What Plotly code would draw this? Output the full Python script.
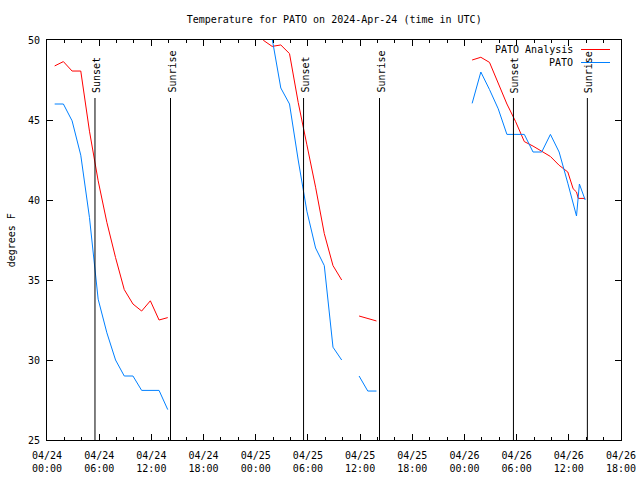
import plotly.graph_objects as go

# ---------------- data ----------------
analysis_times = [
    "2024-04-24 00:53", "2024-04-24 01:53", "2024-04-24 02:53", "2024-04-24 03:53",
    "2024-04-24 04:53", "2024-04-24 05:53", "2024-04-24 06:53", "2024-04-24 07:53",
    "2024-04-24 08:53", "2024-04-24 09:53", "2024-04-24 10:53", "2024-04-24 11:53",
    "2024-04-24 12:53", "2024-04-24 13:53",
    "2024-04-24 18:00",
    "2024-04-24 23:53", "2024-04-25 00:53", "2024-04-25 01:53", "2024-04-25 02:53",
    "2024-04-25 03:53", "2024-04-25 04:53", "2024-04-25 05:53", "2024-04-25 06:53",
    "2024-04-25 07:53", "2024-04-25 08:53", "2024-04-25 09:53",
    "2024-04-25 10:53",
    "2024-04-25 11:53", "2024-04-25 12:53", "2024-04-25 13:53",
    "2024-04-25 18:00",
    "2024-04-26 00:53", "2024-04-26 01:53", "2024-04-26 02:53", "2024-04-26 03:53",
    "2024-04-26 04:53", "2024-04-26 05:53", "2024-04-26 06:53", "2024-04-26 07:53",
    "2024-04-26 08:53", "2024-04-26 09:53", "2024-04-26 10:53", "2024-04-26 11:53",
    "2024-04-26 12:30", "2024-04-26 12:53", "2024-04-26 13:05", "2024-04-26 13:53",
]
analysis_temps = [
    48.38, 48.65, 48.06, 48.06, 44.3, 41.2, 38.6, 36.4, 34.4, 33.5, 33.06, 33.7, 32.5, 32.65,
    None,
    50.8, 49.98, 49.6, 49.69, 49.15, 46.1, 43.45, 40.8, 37.9, 35.9, 35.0,
    None,
    32.75, 32.6, 32.44,
    None,
    48.75, 48.92, 48.6, 47.29, 46.0, 44.9, 43.65, 43.37, 43.05, 42.72, 42.17, 41.75,
    40.7, 40.5, 40.1, 40.1,
]

obs_times = [
    "2024-04-24 00:53", "2024-04-24 01:53", "2024-04-24 02:53", "2024-04-24 03:53",
    "2024-04-24 04:53", "2024-04-24 05:53", "2024-04-24 06:53", "2024-04-24 07:53",
    "2024-04-24 08:53", "2024-04-24 09:53", "2024-04-24 10:53", "2024-04-24 11:53",
    "2024-04-24 12:53", "2024-04-24 13:53",
    "2024-04-24 18:00",
    "2024-04-25 00:53", "2024-04-25 01:53", "2024-04-25 02:53", "2024-04-25 03:53",
    "2024-04-25 04:53", "2024-04-25 05:53", "2024-04-25 06:53", "2024-04-25 07:53",
    "2024-04-25 08:53", "2024-04-25 09:53",
    "2024-04-25 10:53",
    "2024-04-25 11:53", "2024-04-25 12:53", "2024-04-25 13:53",
    "2024-04-25 18:00",
    "2024-04-26 00:53", "2024-04-26 01:53", "2024-04-26 02:53", "2024-04-26 03:53",
    "2024-04-26 04:53", "2024-04-26 05:53", "2024-04-26 06:53", "2024-04-26 07:53",
    "2024-04-26 08:53", "2024-04-26 09:53", "2024-04-26 10:53", "2024-04-26 11:53",
    "2024-04-26 12:53", "2024-04-26 13:13", "2024-04-26 13:53",
]
obs_temps = [
    46.0, 46.0, 44.95, 42.8, 38.9, 33.8, 31.7, 30.0, 29.0, 29.0, 28.1, 28.1, 28.1, 26.9,
    None,
    51.0, 50.1, 47.0, 46.0, 42.5, 39.3, 37.0, 35.9, 30.8, 30.0,
    None,
    29.0, 28.06, 28.06,
    None,
    46.04, 48.0, 46.9, 45.7, 44.1, 44.1, 44.1, 43.0, 43.0, 44.1, 43.0, 41.05,
    39.0, 41.0, 40.0,
]

event_labels = ["Sunset", "Sunrise", "Sunset", "Sunrise", "Sunset", "Sunrise"]
event_times = ["2024-04-24 05:31", "2024-04-24 14:12", "2024-04-25 05:30",
               "2024-04-25 14:14", "2024-04-26 05:38", "2024-04-26 14:08"]
event_line_top = 46.375

x_tick_vals = ["2024-04-24 00:00", "2024-04-24 06:00", "2024-04-24 12:00", "2024-04-24 18:00",
               "2024-04-25 00:00", "2024-04-25 06:00", "2024-04-25 12:00", "2024-04-25 18:00",
               "2024-04-26 00:00", "2024-04-26 06:00", "2024-04-26 12:00", "2024-04-26 18:00"]
x_tick_text = ["04/24<br>00:00", "04/24<br>06:00", "04/24<br>12:00", "04/24<br>18:00",
               "04/25<br>00:00", "04/25<br>06:00", "04/25<br>12:00", "04/25<br>18:00",
               "04/26<br>00:00", "04/26<br>06:00", "04/26<br>12:00", "04/26<br>18:00"]
y_tick_vals = [25, 30, 35, 40, 45, 50]

series_names = ["PATO Analysis", "PATO"]
series_colors = ["#ff0000", "#0080ff"]

FONT = "DejaVu Sans Mono"

# ---------------- figure ----------------
fig = go.Figure()
fig.add_trace(go.Scatter(x=analysis_times, y=analysis_temps, mode="lines",
                         name=series_names[0], connectgaps=False,
                         line=dict(color=series_colors[0], width=1)))
fig.add_trace(go.Scatter(x=obs_times, y=obs_temps, mode="lines",
                         name=series_names[1], connectgaps=False,
                         line=dict(color=series_colors[1], width=1)))

# sunrise / sunset markers
for lab, t in zip(event_labels, event_times):
    fig.add_shape(type="line", xref="x", yref="y", x0=t, x1=t, y0=25, y1=event_line_top,
                  line=dict(color="black", width=1), layer="above")
    fig.add_annotation(x=t, y=event_line_top, xref="x", yref="y", text=lab,
                       textangle=-90, showarrow=False, xanchor="center", yanchor="bottom",
                       yshift=3, xshift=1, font=dict(family=FONT, size=10, color="black"))

# manual legend (text left of sample line, gnuplot style)
PW, PH, L, T = 574.3, 400.0, 46.7, 40.0
def px(xp):
    return (xp - L) / PW
def py(yp):
    return (T + PH - yp) / PH
legend_y = [49.5, 62.5]
for name, col, yy in zip(series_names, series_colors, legend_y):
    fig.add_annotation(x=px(575), y=py(yy), xref="paper", yref="paper", text=name,
                       showarrow=False, xanchor="right", yanchor="middle",
                       font=dict(family=FONT, size=10, color="black"))
    fig.add_shape(type="line", xref="paper", yref="paper", x0=px(581), x1=px(610),
                  y0=py(yy), y1=py(yy), line=dict(color=col, width=1))

# y axis title
fig.add_annotation(x=px(11), y=0.5, xref="paper", yref="paper", text="degrees F",
                   textangle=-90, showarrow=False, xanchor="center", yanchor="middle",
                   font=dict(family=FONT, size=10, color="black"))

fig.update_layout(
    width=640, height=480,
    margin=dict(l=47, r=19, t=40, b=40, autoexpand=False),
    paper_bgcolor="white", plot_bgcolor="white",
    showlegend=False,
    font=dict(family=FONT, size=10, color="black"),
    title=dict(text="Temperature for PATO on 2024-Apr-24 (time in UTC)",
               x=px(334), xanchor="center", xref="paper",
               y=1 - 19 / 480, yref="container", yanchor="middle",
               font=dict(family=FONT, size=10, color="black")),
)
fig.update_xaxes(
    type="date", range=["2024-04-24 00:00", "2024-04-26 18:00"],
    tickmode="array", tickvals=x_tick_vals, ticktext=x_tick_text,
    ticks="inside", ticklen=6, tickcolor="black", tickwidth=1,
    minor=dict(ticks="inside", ticklen=3, dtick=2 * 3600000, tick0="2024-04-24",
               tickcolor="black", showgrid=False),
    showline=True, linecolor="black", linewidth=1, mirror="allticks",
    showgrid=False, zeroline=False, automargin=False, ticklabelstandoff=6,
    tickfont=dict(family=FONT, size=10, color="black"),
)
fig.update_yaxes(
    range=[25, 50], tickmode="array", tickvals=y_tick_vals,
    ticks="inside", ticklen=6, tickcolor="black", tickwidth=1,
    showline=True, linecolor="black", linewidth=1, mirror="allticks",
    showgrid=False, zeroline=False, automargin=False, ticklabelstandoff=4,
    tickfont=dict(family=FONT, size=10, color="black"),
)

fig.write_html("out.html")
